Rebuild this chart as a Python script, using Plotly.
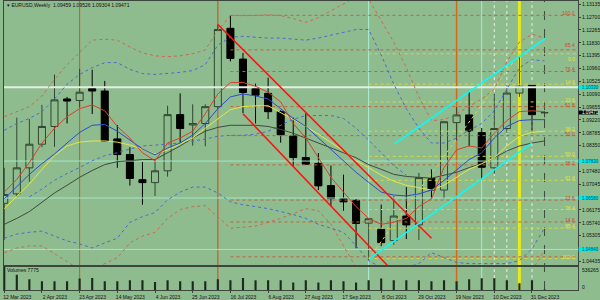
import plotly.graph_objects as go

BG = "#8fbc8f"

# ---------------- data (weekly EURUSD, bar index 0 = week of 12 Mar 2023) ----------------
TICK_BARS = [0, 3, 6, 9, 12, 15, 18, 21, 24, 27, 30, 33, 36, 39, 42]
TICK_TEXT = ["12 Mar 2023", "2 Apr 2023", "23 Apr 2023", "14 May 2023", "4 Jun 2023",
             "25 Jun 2023", "16 Jul 2023", "6 Aug 2023", "27 Aug 2023", "17 Sep 2023",
             "8 Oct 2023", "29 Oct 2023", "19 Nov 2023", "10 Dec 2023", "31 Dec 2023"]

OPEN = [1.0640, 1.0672, 1.0760, 1.0840, 1.0900, 1.0993, 1.0988, 1.1028, 1.1020, 1.0858,
        1.0805, 1.0720, 1.0710, 1.0750, 1.0940, 1.0905, 1.0910, 1.0967, 1.1232, 1.1128,
        1.1028, 1.1012, 1.0950, 1.0868, 1.0795, 1.0775, 1.0700, 1.0656, 1.0650, 1.0573,
        1.0552, 1.0514, 1.0597, 1.0567, 1.0724, 1.0685, 1.0913, 1.0939, 1.0880, 1.0760,
        1.0893, 1.1013, 1.1039, 1.09459]
HIGH = [1.0760, 1.0930, 1.0925, 1.0973, 1.1076, 1.1000, 1.1095, 1.1092, 1.1054, 1.0905,
        1.0830, 1.0780, 1.0787, 1.0970, 1.1012, 1.0975, 1.0975, 1.1245, 1.1276, 1.1149,
        1.1045, 1.1065, 1.0955, 1.0930, 1.0945, 1.0810, 1.0768, 1.0737, 1.0655, 1.0590,
        1.0636, 1.0664, 1.0695, 1.0743, 1.0755, 1.0916, 1.0965, 1.1017, 1.0895, 1.1010,
        1.1040, 1.1139, 1.1045, 1.09526]
LOW = [1.0516, 1.0661, 1.0713, 1.0830, 1.0831, 1.0910, 1.0964, 1.0942, 1.0850, 1.0760,
       1.0700, 1.0635, 1.0665, 1.0730, 1.0845, 1.0835, 1.0833, 1.0960, 1.1120, 1.0945,
       1.0910, 1.0925, 1.0845, 1.0765, 1.0770, 1.0685, 1.0630, 1.0615, 1.0488, 1.0448,
       1.0495, 1.0500, 1.0519, 1.0516, 1.0655, 1.0655, 1.0852, 1.0833, 1.0721, 1.0740,
       1.0878, 1.1000, 1.0876, 1.09304]
CLOSE = [1.0670, 1.0760, 1.0840, 1.0900, 1.0990, 1.0986, 1.1016, 1.1020, 1.0850, 1.0805,
         1.0724, 1.0710, 1.0750, 1.0940, 1.0893, 1.0910, 1.0967, 1.1228, 1.1130, 1.1015,
         1.1006, 1.0950, 1.0872, 1.0795, 1.0772, 1.0699, 1.0656, 1.0645, 1.0572, 1.0588,
         1.0507, 1.0597, 1.0567, 1.0727, 1.0685, 1.0916, 1.0939, 1.0883, 1.0762, 1.0893,
         1.1013, 1.1036, 1.0940, 1.09471]
VOLUME = [536265, 350000, 246000, 201000, 201000, 201000, 261000, 275000, 201000, 201000,
          223000, 223000, 186000, 223000, 201000, 201000, 201000, 246000, 223000, 275000,
          223000, 223000, 223000, 172000, 223000, 172000, 223000, 201000, 172000, 223000,
          261000, 223000, 223000, 223000, 201000, 223000, 201000, 246000, 268000, 268000,
          223000, 156000, 223000, 7775]
BARS = list(range(len(OPEN)))

# indicator lines
UPPER_RED = [1.0933, 1.0950, 1.0967, 1.1003, 1.1059, 1.1109, 1.1152, 1.1192, 1.1195, 1.1192,
             1.1169, 1.1149, 1.1139, 1.1136, 1.1139, 1.1146, 1.1159, 1.1225, 1.1275, 1.1275,
             1.1275, 1.1278, 1.1275, 1.1265, 1.1252, 1.1268, 1.1291, 1.1315, 1.1338, 1.1331,
             1.1258, 1.1185, 1.1099, 1.1000, 1.0920, 1.0923, 1.0943, 1.0967, 1.0993, 1.1026,
             1.1119, 1.1185, 1.1212, 1.1199]
UPPER_BLUE = [1.0887, 1.0910, 1.0927, 1.0950, 1.0993, 1.1043, 1.1076, 1.1099, 1.1116, 1.1116,
              1.1093, 1.1079, 1.1076, 1.1079, 1.1083, 1.1089, 1.1109, 1.1175, 1.1202, 1.1205,
              1.1202, 1.1199, 1.1199, 1.1195, 1.1192, 1.1199, 1.1208, 1.1218, 1.1228, 1.1228,
              1.1142, 1.1043, 1.0960, 1.0894, 1.0844, 1.0844, 1.0861, 1.0887, 1.0910, 1.0953,
              1.1026, 1.1099, 1.1126, 1.1122]
MID_BLUE_BARS = list(range(2, 33))
MID_BLUE = [1.0662, 1.0688, 1.0718, 1.0741, 1.0761, 1.0784, 1.0801, 1.0811, 1.0824, 1.0834,
            1.0837, 1.0841, 1.0844, 1.0851, 1.0857, 1.0867, 1.0870, 1.0870, 1.0874, 1.0884,
            1.0904, 1.0924, 1.0937, 1.0937, 1.0937, 1.0927, 1.0894, 1.0854, 1.0811, 1.0768,
            1.0735]
LOWER_BLUE = [1.0522, 1.0536, 1.0542, 1.0546, 1.0529, 1.0513, 1.0503, 1.0489, 1.0506, 1.0522,
              1.0576, 1.0595, 1.0609, 1.0652, 1.0678, 1.0695, 1.0695, 1.0675, 1.0645, 1.0635,
              1.0629, 1.0622, 1.0612, 1.0602, 1.0589, 1.0569, 1.0556, 1.0542, 1.0496, 1.0446,
              1.0423, 1.0413, 1.0423, 1.0436, 1.0473, 1.0456, 1.0440, 1.0436, 1.0436, 1.0436,
              1.0436, 1.0446, 1.0486, 1.0556]
LOWER_RED = [1.0473, 1.0489, 1.0496, 1.0496, 1.0470, 1.0443, 1.0416, 1.0416, 1.0436, 1.0456,
             1.0506, 1.0529, 1.0542, 1.0589, 1.0619, 1.0629, 1.0632, 1.0595, 1.0556, 1.0559,
             1.0563, 1.0576, 1.0589, 1.0605, 1.0622, 1.0615, 1.0569, 1.0496, 1.0423, 1.0390,
             1.0370, 1.0360, 1.0360, 1.0365, 1.0370, 1.0370, 1.0370, 1.0375, 1.0380, 1.0385,
             1.0385, 1.0390, 1.0413, 1.0480]
MA_RED = [1.0678, 1.0721, 1.0778, 1.0844, 1.0894, 1.0933, 1.0960, 1.0973, 1.0953, 1.0900,
          1.0861, 1.0811, 1.0784, 1.0844, 1.0861, 1.0884, 1.0943, 1.1010, 1.1049, 1.1049,
          1.1036, 1.1016, 1.0983, 1.0910, 1.0861, 1.0794, 1.0728, 1.0678, 1.0629, 1.0589,
          1.0569, 1.0576, 1.0589, 1.0629, 1.0655, 1.0761, 1.0821, 1.0834, 1.0827, 1.0877,
          1.0920, 1.0950, 1.0953, 1.0950]
MA_BLUE = [1.0655, 1.0695, 1.0738, 1.0774, 1.0807, 1.0844, 1.0880, 1.0904, 1.0907, 1.0884,
           1.0854, 1.0824, 1.0804, 1.0827, 1.0844, 1.0871, 1.0910, 1.0960, 1.1000, 1.1010,
           1.1003, 1.0993, 1.0960, 1.0927, 1.0900, 1.0861, 1.0821, 1.0784, 1.0745, 1.0711,
           1.0678, 1.0668, 1.0665, 1.0672, 1.0685, 1.0718, 1.0754, 1.0788, 1.0811, 1.0861,
           1.0900, 1.0920, 1.0923, 1.0923]
MA_YELLOW = [1.0622, 1.0662, 1.0705, 1.0755, 1.0801, 1.0834, 1.0847, 1.0851, 1.0851, 1.0847,
             1.0837, 1.0824, 1.0807, 1.0821, 1.0841, 1.0861, 1.0894, 1.0927, 1.0957, 1.0967,
             1.0970, 1.0970, 1.0947, 1.0924, 1.0900, 1.0874, 1.0847, 1.0817, 1.0784, 1.0761,
             1.0735, 1.0715, 1.0701, 1.0692, 1.0685, 1.0701, 1.0728, 1.0755, 1.0774, 1.0794,
             1.0834, 1.0867, 1.0880, 1.0884]
MA_DARK = [1.0569, 1.0589, 1.0612, 1.0645, 1.0675, 1.0701, 1.0728, 1.0751, 1.0771, 1.0781,
           1.0784, 1.0788, 1.0788, 1.0811, 1.0834, 1.0861, 1.0884, 1.0897, 1.0904, 1.0904,
           1.0904, 1.0900, 1.0890, 1.0877, 1.0861, 1.0844, 1.0827, 1.0811, 1.0794, 1.0771,
           1.0755, 1.0738, 1.0731, 1.0728, 1.0725, 1.0735, 1.0745, 1.0761, 1.0774, 1.0794,
           1.0817, 1.0834, 1.0844, 1.0851]

# drawn objects
RED_CHANNEL_UP = ([17, 34], [1.1245, 1.0522])
RED_CHANNEL_LO = ([19, 30.5], [1.0943, 1.0430])
CYAN_UP = ([31.06, 43.1], [1.0841, 1.1199])
CYAN_LO = ([29.08, 42], [1.0453, 1.0844])
YELLOW_FIB_DIAG = ([29, 41], [1.0453, 1.1146])

RED_FIB_START = 18
RED_FIB_LEVELS = ["100.0", "85.4", "76.4", "61.8", "50.0", "38.2", "23.6", "14.6", "0.0"]
RED_FIB_PRICES = [1.1276, 1.1159, 1.1086, 1.0967, 1.0869, 1.0770, 1.0651, 1.0577, 1.0459]
YEL_FIB_START = 29
YEL_FIB_LEVELS = ["0.0", "14.6", "23.6", "38.2", "50.0", "61.8", "76.4", "85.4", "100.0"]
YEL_FIB_PRICES = [1.1146, 1.1043, 1.0983, 1.0884, 1.0799, 1.0718, 1.0619, 1.0556, 1.0453]

HLINE_PRICES = [1.1033, 1.0783, 1.0658, 1.0484]
HLINE_COLORS = ["#e2f0e2", "#9fe8cc", "#9fe8cc", "#9fe8cc"]
HLINE_WIDTHS = [2, 1, 1, 1]

VLINE_BARS = [6, 17, 29, 36, 38, 39, 40, 41, 42, 43]
VLINE_COLORS = ["#ff4500", "#e0401a", "#a8eed4", "#d2691e", "#a8eed4", "#e8f0e8",
                "#e8f0e8", "#e8e81a", "#e8f0e8", "#3a4a3a"]
VLINE_WIDTHS = [1, 1, 1, 1.5, 1, 1, 1, 3, 1, 1]
VLINE_DASH = ["solid", "solid", "solid", "solid", "solid", "dot", "dot", "solid", "dot", "dash"]

# right-hand price scale (labels hidden under the line boxes are not drawn)
PRICE_TICKS = [1.13135, 1.12700, 1.12265, 1.11830, 1.11395, 1.10960, 1.10525, 1.10090,
               1.09655, 1.09220, 1.08785, 1.08350, 1.07480, 1.07045,
               1.06175, 1.05740, 1.05305, 1.04435]
CURRENT_PRICE = 1.09471

# ---------------- layout geometry ----------------
W, H = 600, 300
X_RANGE = [-0.02, 45.67]
Y_RANGE = [1.04297, 1.13245]
MAIN_DOM = [0.1, 0.9967]
VOL_DOM = [0.0167, 0.0967]
XDOM = [3 / W, 580 / W]
FONT = "Liberation Sans"

fig = go.Figure()

def line(xs, ys, color, width=1, dash="solid"):
    fig.add_trace(go.Scatter(x=xs, y=ys, mode="lines", line=dict(color=color, width=width, dash=dash),
                             hoverinfo="skip", showlegend=False, xaxis="x", yaxis="y"))

# horizontal price lines
for p, c, w in zip(HLINE_PRICES, HLINE_COLORS, HLINE_WIDTHS):
    line([X_RANGE[0], X_RANGE[1]], [p, p], c, w)

# fibonacci levels
for p in RED_FIB_PRICES:
    line([RED_FIB_START, X_RANGE[1]], [p, p], "#c0603f", 1, "dot")
for p in YEL_FIB_PRICES:
    line([YEL_FIB_START, X_RANGE[1]], [p, p], "#d8d83a", 1, "dot")
line(YELLOW_FIB_DIAG[0], YELLOW_FIB_DIAG[1], "#d8d83a", 1, "dot")

# bands
line(BARS, UPPER_RED, "#c8694a", 1, "dot")
line(BARS, LOWER_RED, "#c8694a", 1, "dot")
line(BARS, UPPER_BLUE, "#4a6ad0", 1, "dot")
line(BARS, LOWER_BLUE, "#4a6ad0", 1, "dot")
line(MID_BLUE_BARS, MID_BLUE, "#4a6ad0", 1, "dot")
# moving averages
line(BARS, MA_DARK, "#3c4c3c", 1)
line(BARS, MA_YELLOW, "#e6e645", 1)
line(BARS, MA_BLUE, "#2c4cc8", 1)
line(BARS, MA_RED, "#d8402a", 1)

# channels
line(RED_CHANNEL_UP[0], RED_CHANNEL_UP[1], "#ff1010", 1.5)
line(RED_CHANNEL_LO[0], RED_CHANNEL_LO[1], "#ff1010", 1.5)
line(CYAN_UP[0], CYAN_UP[1], "#00ffff", 1.5)
line(CYAN_LO[0], CYAN_LO[1], "#00ffff", 1.5)

# candles
fig.add_trace(go.Candlestick(
    x=BARS, open=OPEN, high=HIGH, low=LOW, close=CLOSE,
    increasing=dict(line=dict(color="#2f472f", width=1), fillcolor=BG),
    decreasing=dict(line=dict(color="#000000", width=1), fillcolor="#000000"),
    whiskerwidth=0, hoverinfo="skip", showlegend=False, xaxis="x", yaxis="y"))

# volumes
fig.add_trace(go.Bar(x=BARS, y=VOLUME, width=0.17, marker=dict(color="#1c2a1c", line=dict(width=0)),
                     hoverinfo="skip", showlegend=False, xaxis="x2", yaxis="y2"))

shapes = []
for b, c, w, d in zip(VLINE_BARS, VLINE_COLORS, VLINE_WIDTHS, VLINE_DASH):
    shapes.append(dict(type="line", xref="x", yref="paper", x0=b, x1=b, y0=VOL_DOM[0], y1=MAIN_DOM[1],
                       line=dict(color=c, width=w, dash=d), layer="below"))

annotations = []
# price-axis boxes for the horizontal lines
BOX_H = 0.00070
for p in HLINE_PRICES:
    shapes.append(dict(type="rect", xref="paper", yref="y", x0=580.5 / W, x1=1.0, y0=p - BOX_H, y1=p + BOX_H,
                       fillcolor="#00e8f0", line=dict(width=0)))
    annotations.append(dict(xref="paper", yref="y", x=582 / W, y=p, text=f"{p:.5f}", showarrow=False,
                            xanchor="left", yanchor="middle", font=dict(size=4.5, color="#005050", family=FONT)))
shapes.append(dict(type="rect", xref="paper", yref="y", x0=580.5 / W, x1=1.0, y0=CURRENT_PRICE - BOX_H,
                   y1=CURRENT_PRICE + BOX_H, fillcolor="#000000", line=dict(width=0)))
annotations.append(dict(xref="paper", yref="y", x=582 / W, y=CURRENT_PRICE, text=f"{CURRENT_PRICE:.5f}",
                        showarrow=False, xanchor="left", yanchor="middle",
                        font=dict(size=4.5, color="#ffffff", family=FONT)))

# fib labels (the two crowded labels near the top are nudged apart)
for lab, p in zip(RED_FIB_LEVELS[:-1], RED_FIB_PRICES[:-1]):
    shift = 0 if lab == "85.4" else -3
    annotations.append(dict(xref="x", yref="y", x=45.55, y=p, text=lab, showarrow=False, xanchor="right",
                            yanchor="bottom", yshift=shift, font=dict(size=5, color="#d04a2a", family=FONT)))
for lab, p in zip(YEL_FIB_LEVELS, YEL_FIB_PRICES):
    anchor, shift = ("top", 0) if lab == "0.0" else ("bottom", -3)
    annotations.append(dict(xref="x", yref="y", x=45.55, y=p, text=lab, showarrow=False, xanchor="right",
                            yanchor=anchor, yshift=shift, font=dict(size=5, color="#e4e43a", family=FONT)))

# header / panel labels
annotations.append(dict(xref="paper", yref="paper", x=4 / W, y=1 - 5 / H, text="▾ EURUSD,Weekly  1.09459 1.09526 1.09304 1.09471",
                        showarrow=False, xanchor="left", yanchor="middle", font=dict(size=5, color="#101010", family=FONT)))
annotations.append(dict(xref="paper", yref="paper", x=4 / W, y=1 - 275 / H, text="Volumes 7775",
                        showarrow=False, xanchor="left", yanchor="middle", font=dict(size=5, color="#101010", family=FONT)))
annotations.append(dict(xref="paper", yref="paper", x=582 / W, y=1 - 275 / H, text="536265",
                        showarrow=False, xanchor="left", yanchor="middle", font=dict(size=5, color="#101010", family=FONT)))
annotations.append(dict(xref="paper", yref="paper", x=582 / W, y=1 - 292 / H, text="0",
                        showarrow=False, xanchor="left", yanchor="middle", font=dict(size=5, color="#101010", family=FONT)))

AX_COL = "#3c463c"
fig.update_layout(
    width=W, height=H, margin=dict(l=0, r=0, t=0, b=0),
    paper_bgcolor=BG, plot_bgcolor=BG, showlegend=False, boxgap=0.2,
    font=dict(family=FONT, size=5, color="#101010"),
    xaxis=dict(domain=XDOM, range=X_RANGE, showgrid=False, zeroline=False, showticklabels=False,
               showline=True, mirror=True, linecolor=AX_COL, linewidth=1, rangeslider=dict(visible=False),
               anchor="y", fixedrange=True),
    yaxis=dict(domain=MAIN_DOM, range=Y_RANGE, side="right", showgrid=False, zeroline=False,
               tickvals=PRICE_TICKS, ticktext=[f"{v:.5f}" for v in PRICE_TICKS], ticks="outside",
               ticklen=2, tickcolor=AX_COL, tickfont=dict(size=5, color="#101010", family=FONT),
               showline=True, mirror=True, linecolor=AX_COL, linewidth=1, anchor="x"),
    xaxis2=dict(domain=XDOM, range=X_RANGE, showgrid=False, zeroline=False, anchor="y2",
                tickvals=TICK_BARS, ticktext=TICK_TEXT, ticks="outside", ticklen=2, tickcolor=AX_COL,
                tickfont=dict(size=5, color="#101010", family=FONT), ticklabelshift=13,
                showline=True, mirror=True, linecolor=AX_COL, linewidth=1),
    yaxis2=dict(domain=VOL_DOM, range=[0, 536265], side="right", showgrid=False, zeroline=False,
                showticklabels=False, showline=True, mirror=True, linecolor=AX_COL, linewidth=1, anchor="x2"),
    shapes=shapes, annotations=annotations,
)

fig.write_html("out.html")
